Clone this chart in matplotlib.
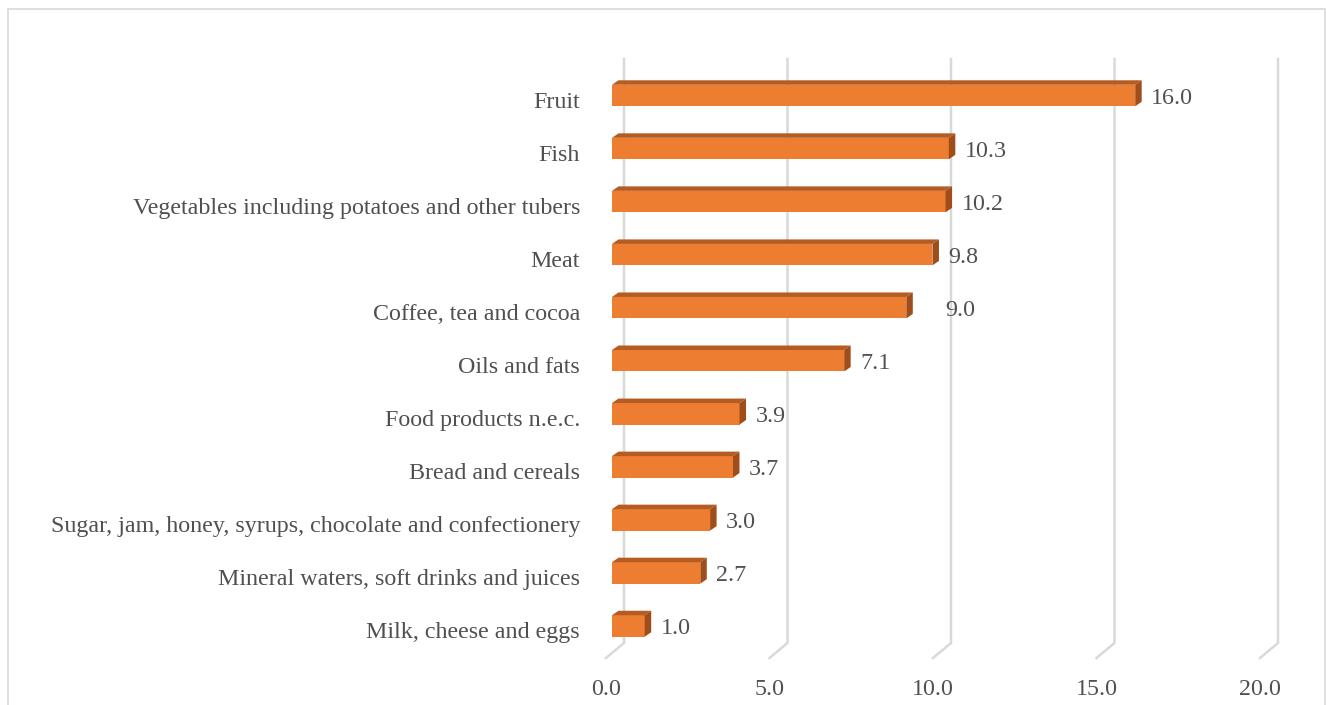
import matplotlib
matplotlib.use("Agg")
import matplotlib.pyplot as plt
from matplotlib.patches import Polygon, Rectangle
from matplotlib import transforms

categories = ["Milk, cheese and eggs",
              "Mineral waters, soft drinks and juices",
              "Sugar, jam, honey, syrups, chocolate and confectionery",
              "Bread and cereals",
              "Food products n.e.c.",
              "Oils and fats",
              "Coffee, tea and cocoa",
              "Meat",
              "Vegetables including potatoes and other tubers",
              "Fish",
              "Fruit"]
values = [1.0, 2.7, 3.0, 3.7, 3.9, 7.1, 9.0, 9.8, 10.2, 10.3, 16.0]
xticks = [0, 5, 10, 15, 20]

front_col = '#ED7D31'
top_col = '#B55C22'
side_col = '#9F4E1B'
grid_col = '#D9D9D9'
txt_col = '#505050'

plt.rcParams['font.family'] = ['Liberation Serif', 'DejaVu Serif']
fs = 17.3

W, H = 1326, 705
fig = plt.figure(figsize=(W/100, H/100), dpi=100)
# front face of the bars: x=0 at 612 px, 20 at 1266 px
ax = fig.add_axes([612/W, (H-652.5)/H, 654/W, 583.5/H])
ax.set_xlim(0, 20)
ax.set_ylim(-0.5, 10.5)
for s in ax.spines.values():
    s.set_visible(False)

sx = 654/20.0   # px per x unit
sy = 583.5/11.0  # px per row

def off(dx, dy):
    return transforms.offset_copy(ax.transData, fig=fig, x=dx, y=dy, units='dots')

# back wall gridlines with floor corner
y_top = (652.5-59)/sy - 0.5
y_back = (652.5-643)/sy - 0.5
y_front = (652.5-658)/sy - 0.5
for v in xticks:
    xb = v + 12/sx
    xf = v - 6/sx
    ax.plot([xb, xb, xf], [y_top, y_back, y_front], color=grid_col, lw=1.8,
            zorder=1, clip_on=False, solid_joinstyle='miter')

h = 0.405
ddx = 6.5/sx
ddy = 4.5/sy
ypos = list(range(len(categories)))
ax.barh(ypos, values, height=h, color=front_col, zorder=3)
for y, v in zip(ypos, values):
    top = Polygon([(0, y+h/2), (v, y+h/2), (v+ddx, y+h/2+ddy), (ddx, y+h/2+ddy)],
                  closed=True, facecolor=top_col, edgecolor='none', zorder=3)
    side = Polygon([(v, y-h/2), (v+ddx, y-h/2+ddy), (v+ddx, y+h/2+ddy), (v, y+h/2)],
                   closed=True, facecolor=side_col, edgecolor='none', zorder=3)
    ax.add_patch(top)
    ax.add_patch(side)

# value labels (the coffee one sits further right in the original)
nudge = {"Coffee, tea and cocoa": 23}
for y, v, c in zip(ypos, values, categories):
    ax.text(v, y, "%.1f" % v, transform=off(16 + nudge.get(c, 0), -3),
            ha='left', va='center', fontsize=fs, color=txt_col, clip_on=False)

ax.set_yticks(ypos)
ax.set_yticklabels(categories, fontsize=fs, color=txt_col)
ax.tick_params(axis='y', length=0, pad=23)
for lbl in ax.get_yticklabels():
    lbl.set_transform(lbl.get_transform() + transforms.ScaledTranslation(0, -4/100, fig.dpi_scale_trans))

ax.set_xticks(xticks)
ax.set_xticklabels(["%.1f" % t for t in xticks], fontsize=fs, color=txt_col)
ax.tick_params(axis='x', length=0, pad=19)
for lbl in ax.get_xticklabels():
    lbl.set_transform(lbl.get_transform() + transforms.ScaledTranslation(-6/100, 0, fig.dpi_scale_trans))

# chart area border
fig.patches.append(Rectangle((8/W, -0.05), (1325-8)/W, (H-9)/H + 0.05, transform=fig.transFigure,
                             fill=False, edgecolor=grid_col, lw=1.2))

fig.savefig("out.png", dpi=100)
